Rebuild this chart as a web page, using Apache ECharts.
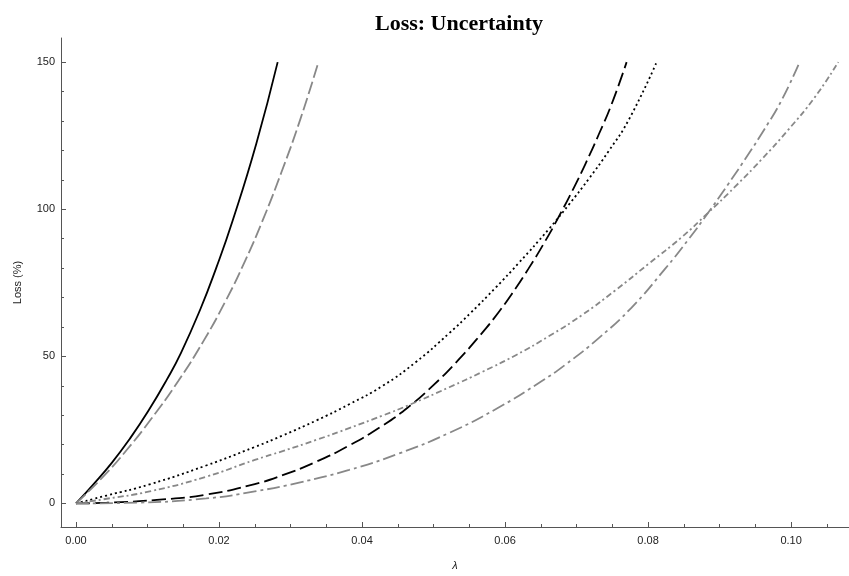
<!DOCTYPE html>
<html>
<head>
<meta charset="utf-8">
<script src="https://cdn.jsdelivr.net/npm/echarts@6/dist/echarts.min.js"></script>
<style>
  html, body { margin: 0; padding: 0; background: #fff; }
  #chart { width: 849px; height: 576px; }
</style>
</head>
<body>
<div id="chart"></div>
<script>
// [lambda, loss %]
const solidBlack = [
  [0, 0], [0.0024, 6.4], [0.005, 13.8], [0.0075, 21.9], [0.0101, 31.4], [0.0127, 42.1],
  [0.0147, 51.3], [0.0174, 66.1], [0.0196, 80], [0.0219, 96.1], [0.0252, 122.2], [0.0282, 150]
]
const dashGray = [
  [0, 0], [0.0038, 9.1], [0.0072, 18.5], [0.0105, 28.7], [0.0143, 41.6], [0.0178, 55.1],
  [0.021, 69.2], [0.0236, 82.2], [0.026, 95.6], [0.0287, 112.4], [0.0314, 130.8], [0.0339, 150]
]
const dotBlack = [
  [0, 0], [0.0043, 2.7], [0.0103, 6.5], [0.0182, 12.9], [0.025, 19.2], [0.0289, 23.1],
  [0.0336, 28.2], [0.0382, 33.7], [0.0429, 40], [0.0475, 48], [0.0522, 57.9], [0.0552, 64.8],
  [0.0587, 73.4], [0.0619, 81.7], [0.0661, 93.2], [0.0689, 101.5], [0.0717, 110.3], [0.0745, 119.8],
  [0.0773, 130.4], [0.0812, 150]
]
const longDashBlack = [
  [0, 0], [0.0043, 0.26], [0.0113, 1.2], [0.0182, 3], [0.025, 6.6], [0.0289, 9.6],
  [0.0336, 14.2], [0.0382, 19.7], [0.0429, 26.5], [0.0466, 33], [0.0498, 39.8], [0.0531, 47.8],
  [0.0568, 58], [0.0591, 65], [0.061, 71.4], [0.0633, 79.9], [0.0656, 89.1], [0.0675, 97.4],
  [0.0696, 107.2], [0.0712, 115.2], [0.0731, 125.4], [0.0749, 135.7], [0.077, 150]
]
const dashDotDotGray = [
  [0, 0], [0.0043, 1.6], [0.0103, 4.1], [0.0182, 9.1], [0.025, 14.8], [0.0289, 17.8],
  [0.0336, 21.6], [0.0382, 25.6], [0.0429, 29.9], [0.0466, 33.5], [0.0522, 39.5], [0.0568, 44.7],
  [0.0615, 50.4], [0.0661, 56.8], [0.0708, 64.1], [0.0754, 72.4], [0.0801, 81.5], [0.0847, 90.5],
  [0.0884, 98.8], [0.0921, 107.5], [0.0959, 117], [0.0996, 127], [0.1033, 138], [0.1066, 150]
]
const dashDotGray = [
  [0, 0], [0.0089, 0.3], [0.0182, 1.7], [0.025, 4.1], [0.0312, 7.1], [0.0382, 11.4],
  [0.0452, 17], [0.0522, 24], [0.0591, 32.6], [0.0652, 41.7], [0.0684, 47.1], [0.0731, 56.2],
  [0.0777, 66.6], [0.0824, 79.8], [0.0856, 89.6], [0.0884, 98.8], [0.0912, 108.5], [0.094, 118.6],
  [0.0963, 127.3], [0.0986, 136.7], [0.1012, 150]
]

const xMajor = [0, 0.02, 0.04, 0.06, 0.08, 0.10]
const xMinor = [0.005, 0.01, 0.015, 0.025, 0.03, 0.035, 0.045, 0.05, 0.055, 0.065, 0.07, 0.075, 0.085, 0.09, 0.095, 0.105]
const yMajor = [0, 50, 100, 150]
const yMinor = [10, 20, 30, 40, 60, 70, 80, 90, 110, 120, 130, 140]

const BLACK = '#000'
const GRAY = '#888'
const AXIS = '#555'
const FONT = 'Liberation Sans, Arial, sans-serif'

const X_MIN = -0.0021, X_MAX = 0.1081
const Y_MIN = -8, Y_MAX = 158.2

function line(data, color, type) {
  return {
    type: 'line', data, showSymbol: false, smooth: 0.5, silent: true,
    lineStyle: { color, width: 1.8, type }
  }
}

const chart = echarts.init(document.getElementById('chart'), null, { renderer: 'canvas' })

chart.setOption({
  animation: false,
  backgroundColor: '#fff',
  title: {
    text: 'Loss: Uncertainty',
    left: 370,
    top: 8,
    textStyle: { fontFamily: 'Liberation Serif, serif', fontWeight: 'bold', fontSize: 22, color: '#000' }
  },
  grid: { left: 61, right: 0, top: 38, bottom: 47 },
  xAxis: [
    {
      type: 'value', min: X_MIN, max: X_MAX,
      name: 'λ', nameLocation: 'middle', nameGap: 33,
      nameTextStyle: { fontFamily: FONT, fontStyle: 'italic', fontSize: 11, color: '#222' },
      axisLine: { onZero: false, lineStyle: { color: AXIS, width: 1 } },
      axisTick: { inside: true, length: 5, customValues: xMajor, lineStyle: { color: AXIS } },
      axisLabel: {
        customValues: xMajor, margin: 8, fontFamily: FONT, fontSize: 11, color: '#222',
        formatter: v => v.toFixed(2)
      },
      splitLine: { show: false }
    },
    {
      type: 'value', min: X_MIN, max: X_MAX, position: 'bottom',
      axisLine: { show: false, onZero: false },
      axisTick: { inside: true, length: 3, customValues: xMinor, lineStyle: { color: AXIS } },
      axisLabel: { show: false },
      splitLine: { show: false }
    }
  ],
  yAxis: [
    {
      type: 'value', min: Y_MIN, max: Y_MAX,
      name: 'Loss (%)', nameLocation: 'middle', nameGap: 38,
      nameTextStyle: { fontFamily: FONT, fontSize: 11, color: '#222' },
      axisLine: { show: true, onZero: false, lineStyle: { color: AXIS, width: 1 } },
      axisTick: { show: true, inside: true, length: 5, customValues: yMajor, lineStyle: { color: AXIS } },
      axisLabel: { customValues: yMajor, margin: 6, fontFamily: FONT, fontSize: 11, color: '#222' },
      splitLine: { show: false }
    },
    {
      type: 'value', min: Y_MIN, max: Y_MAX, position: 'left',
      axisLine: { show: false, onZero: false },
      axisTick: { show: true, inside: true, length: 3, customValues: yMinor, lineStyle: { color: AXIS } },
      axisLabel: { show: false },
      splitLine: { show: false }
    }
  ],
  series: [
    line(solidBlack, BLACK, 'solid'),
    line(dashGray, GRAY, [13, 4]),
    line(dotBlack, BLACK, [2, 3]),
    line(longDashBlack, BLACK, [14, 5]),
    line(dashDotDotGray, GRAY, [6, 3, 2, 3]),
    line(dashDotGray, GRAY, [13, 4, 3, 4])
  ]
})
</script>
</body>
</html>
